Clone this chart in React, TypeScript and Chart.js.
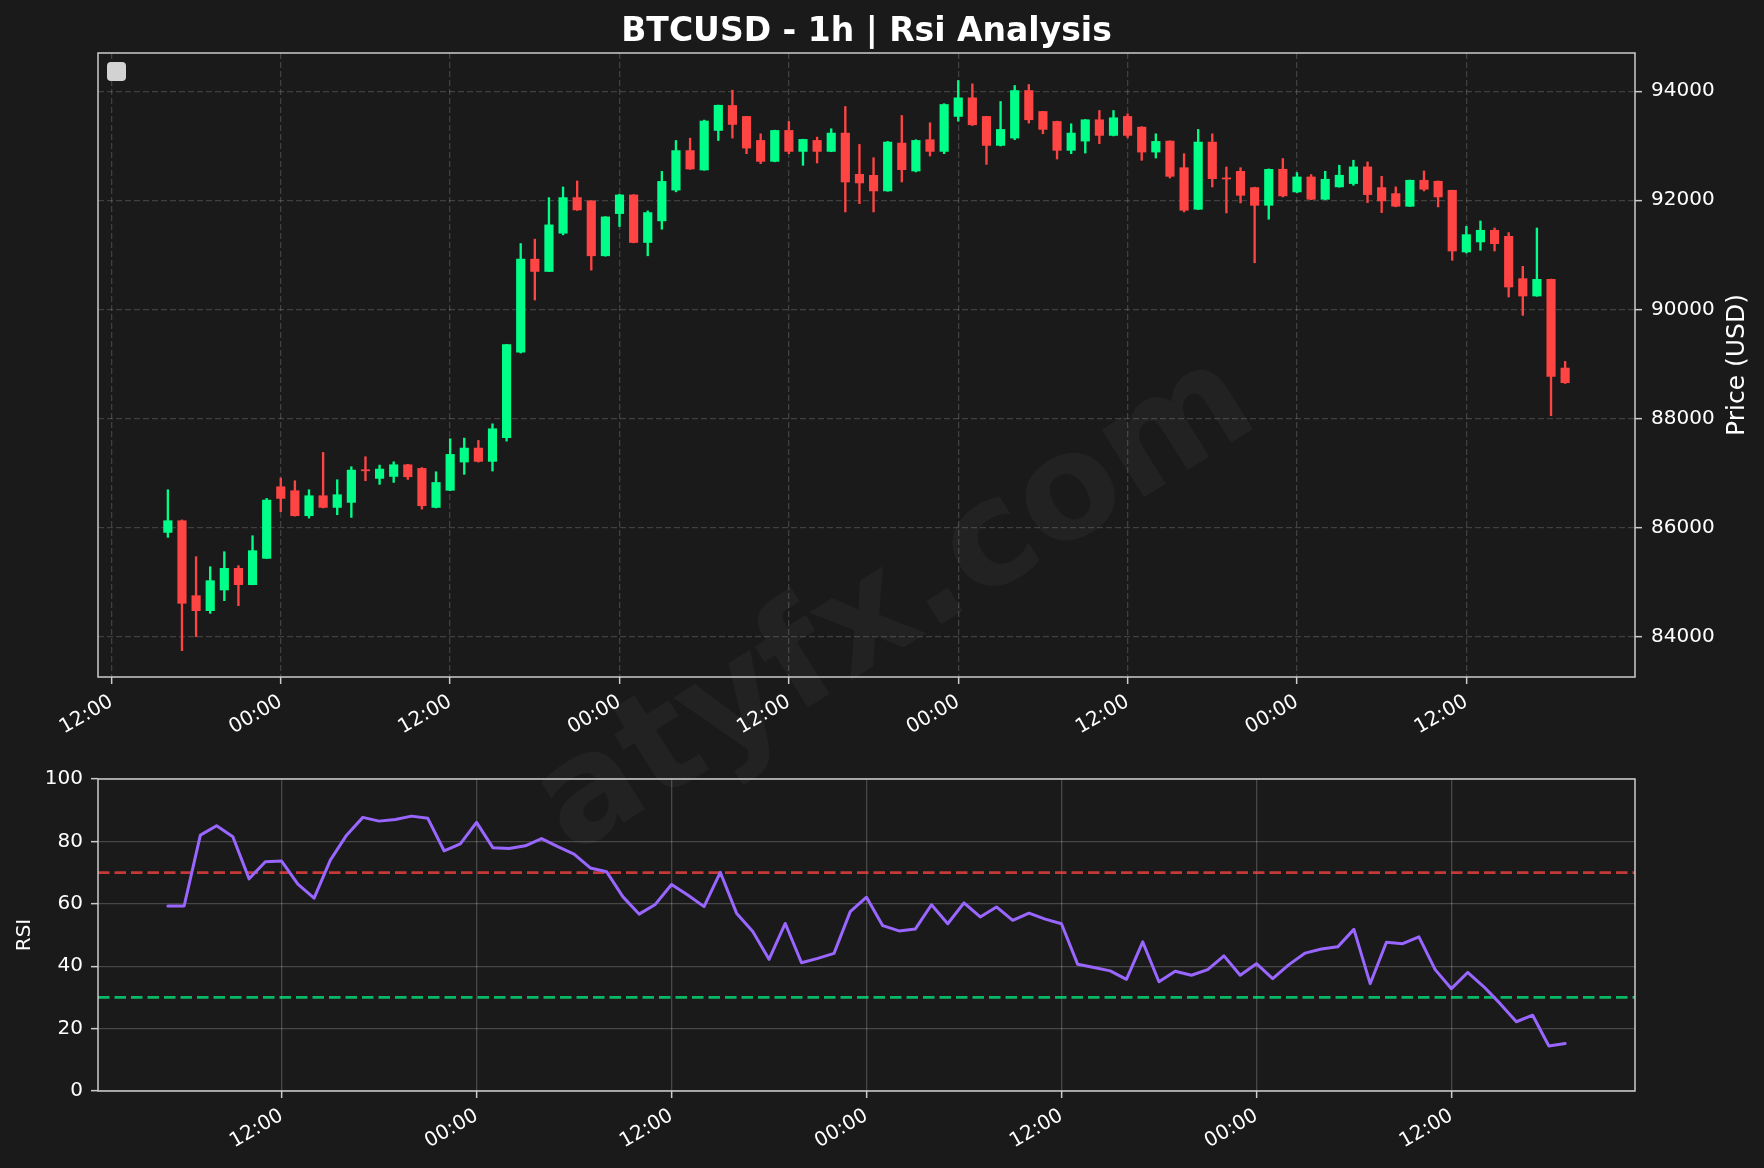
import React, { useEffect, useRef } from 'react';
import { Chart, registerables } from 'chart.js';

Chart.register(...registerables);

// ---------------- Data ----------------
// Hourly candles; first candle sits 16 h after the first midnight on the axis
const FIRST_CANDLE_HOUR = 16;
const OPEN = [
  85911, 86125, 84751, 84476, 84855, 85252, 84953, 85435, 86748, 86675,
  86217, 86583, 86369, 86461, 87060, 86901, 86937, 87151, 87084, 86369,
  86683, 87201, 87457, 87213, 87646, 89213, 90921, 90695, 91396, 92049,
  91988, 90982, 91756, 92098, 91226, 91622, 92186, 92911, 92555, 93280,
  93738, 93537, 93097, 92713, 93280, 92896, 93097, 92896, 93232, 92476,
  92457, 92171, 93049, 92536, 93110, 92896, 93537, 93878, 93537, 93006,
  93140, 94012, 93628, 93445, 92915, 93085, 93476, 93189, 93537, 93341,
  92884, 93085, 92597, 91835, 93067, 92410, 92530, 92232, 91908, 92569,
  92153, 92428, 92018, 92245, 92306, 92612, 92232, 92122, 91890, 92367,
  92349, 92183, 91052, 91236, 91450, 91339, 90563, 90245, 90550, 88924,
];
const HIGH = [
  86693, 86140, 85466, 85282, 85557, 85301, 85850, 86534, 86907, 86858,
  86693, 87377, 86876, 87115, 87298, 87145, 87206, 87160, 87100, 87023,
  87628, 87640, 87597, 87902, 89360, 91207, 91287, 92049, 92244, 92354,
  91995, 91700, 92110, 92105, 91805, 92530, 93096, 93139, 93470, 93745,
  94018, 93540, 93219, 93285, 93445, 93120, 93158, 93311, 93719, 93024,
  92780, 93080, 93555, 93110, 93421, 93770, 94195, 94134, 93540, 93811,
  94104, 94122, 93630, 93450, 93402, 93480, 93646, 93646, 93585, 93350,
  93219, 93090, 92854, 93299, 93219, 92610, 92597, 92240, 92575, 92765,
  92508, 92471, 92532, 92642, 92734, 92703, 92440, 92245, 92370, 92538,
  92355, 92185, 91523, 91621, 91492, 91407, 90789, 91492, 90555, 89046,
];
const LOW = [
  85820, 83743, 84000, 84427, 84659, 84568, 84950, 85430, 86290, 86210,
  86174, 86360, 86235, 86186, 86858, 86791, 86827, 86882, 86339, 86360,
  86675, 86975, 87200, 87036, 87585, 89200, 90171, 90690, 91366, 91815,
  90719, 90975, 91518, 91220, 90982, 91469, 92155, 92565, 92550, 93096,
  93140, 92854, 92671, 92705, 92854, 92640, 92683, 92890, 91786, 91939,
  91786, 92165, 92335, 92520, 92811, 92854, 93451, 93370, 92658, 92995,
  93110, 93415, 93219, 92756, 92854, 92866, 93037, 93180, 93146, 92732,
  92774, 92408, 91786, 91830, 92244, 91768, 91951, 90854, 91652, 92061,
  92140, 92010, 92010, 92240, 92275, 91957, 91774, 91880, 91885, 92171,
  91878, 90899, 91034, 91083, 91070, 90226, 89890, 90240, 88050, 88640,
];
const CLOSE = [
  86125, 84611, 84476, 85026, 85252, 84953, 85576, 86504, 86534, 86217,
  86583, 86369, 86602, 87053, 87040, 87072, 87151, 86931, 86400, 86827,
  87341, 87457, 87213, 87811, 89353, 90921, 90695, 91549, 92049, 91823,
  90982, 91695, 92098, 91226, 91774, 92346, 92911, 92573, 93453, 93742,
  93390, 92957, 92713, 93280, 92896, 93116, 92896, 93232, 92335, 92317,
  92171, 93067, 92561, 93097, 92896, 93756, 93878, 93384, 93006, 93299,
  94012, 93476, 93299, 92915, 93232, 93476, 93189, 93512, 93189, 92884,
  93079, 92439, 91817, 93067, 92396, 92390, 92091, 91908, 92567, 92080,
  92428, 92018, 92385, 92459, 92612, 92104, 91988, 91890, 92367, 92202,
  92061, 91070, 91370, 91450, 91205, 90410, 90245, 90550, 88771, 88655,
];

// RSI panel: its own time axis, first value 5 h after the first midnight
const RSI_FIRST_HOUR = 5;
const RSI = [
  59.3, 59.3, 82, 85, 81.5, 68, 73.5, 73.7, 66.3, 61.8,
  74, 82, 87.7, 86.5, 87, 88.1, 87.4, 77, 79.2, 86.1,
  78, 77.7, 78.6, 80.9, 78.3, 75.9, 71.5, 70.3, 62.3, 56.7,
  59.8, 66.2, 62.8, 59.1, 70.1, 57, 51.1, 42.2, 53.7, 41.1,
  42.5, 44.1, 57.5, 62.1, 53, 51.3, 51.9, 59.7, 53.6, 60.3,
  55.8, 59, 54.7, 57, 55.1, 53.6, 40.6, 39.6, 38.5, 35.8,
  47.8, 35, 38.4, 37.1, 38.9, 43.3, 37.1, 40.8, 36, 40.5,
  44.2, 45.5, 46.2, 51.8, 34.4, 47.7, 47.2, 49.4, 38.9, 32.8,
  38, 33.4, 28, 22.2, 24.3, 14.4, 15.2,
];

const PRICE_TICKS = [84000, 86000, 88000, 90000, 92000, 94000];
const PRICE_MIN = 83260;
const PRICE_MAX = 94700;
const PRICE_TIME_TICKS = [12, 24, 36, 48, 60, 72, 84, 96, 108];
const RSI_TIME_TICKS = [12, 24, 36, 48, 60, 72, 84];
const RSI_TICKS = [0, 20, 40, 60, 80, 100];
const OVERBOUGHT = 70;
const OVERSOLD = 30;

const TITLE = 'BTCUSD - 1h | Rsi Analysis';
const PRICE_LABEL = 'Price (USD)';
const RSI_LABEL = 'RSI';
const WATERMARK = 'atyfx.com';

// ---------------- Styles ----------------
const FONT = "'DejaVu Sans', sans-serif";
const BG = '#1a1a1a';
const GREEN = '#00ff88';
const RED = '#ff4444';
const GRID = 'rgba(255,255,255,0.17)';
const FRAME = '#cccccc';
const RSI_COLOR = '#9966ff';

const W = 1764;
const H = 1168;
const TOP_H = 750;
const RSI_TOP = 750;
const RSI_H = H - RSI_TOP;
const AREA_L = 98;
const AREA_R = 1635;
const TOP_AREA_T = 53;
const TOP_AREA_B = 677;
const RSI_AREA_T = 779;
const RSI_AREA_B = 1091;

function timeLabel(v: number): string {
  const h = ((Math.round(v) % 24) + 24) % 24;
  return String(h).padStart(2, '0') + ':00';
}

function framePlugin(id: string) {
  return {
    id,
    afterDraw(chart: any) {
      const { ctx, chartArea: a } = chart;
      ctx.save();
      ctx.strokeStyle = FRAME;
      ctx.lineWidth = 1.5;
      ctx.strokeRect(a.left, a.top, a.right - a.left, a.bottom - a.top);
      ctx.restore();
    },
  };
}

export default function App() {
  const topRef = useRef<HTMLCanvasElement | null>(null);
  const rsiRef = useRef<HTMLCanvasElement | null>(null);

  useEffect(() => {
    const candleX = OPEN.map((_, i) => FIRST_CANDLE_HOUR + i);
    const span = candleX[candleX.length - 1] - candleX[0];
    const xMin = candleX[0] - span * 0.05;
    const xMax = candleX[candleX.length - 1] + span * 0.05;
    const colors = CLOSE.map((c, i) => (c >= OPEN[i] ? GREEN : RED));
    const bodyData = candleX.map((x, i) => ({ x, y: [OPEN[i], CLOSE[i]] }));
    const wickData = candleX.map((x, i) => ({ x, y: [LOW[i], HIGH[i]] }));

    const topDecor = {
      id: 'topDecor',
      afterDraw(chart: any) {
        const { ctx, chartArea: a } = chart;
        ctx.save();
        ctx.fillStyle = '#ffffff';
        ctx.font = `bold 33px ${FONT}`;
        ctx.textAlign = 'center';
        ctx.textBaseline = 'alphabetic';
        ctx.fillText(TITLE, (a.left + a.right) / 2, 41);
        ctx.font = `25px ${FONT}`;
        ctx.translate(1737, (a.top + a.bottom) / 2);
        ctx.rotate(-Math.PI / 2);
        ctx.textBaseline = 'middle';
        ctx.fillText(PRICE_LABEL, 0, 0);
        ctx.restore();
        ctx.save();
        ctx.fillStyle = '#d2d2d2';
        ctx.beginPath();
        (ctx as any).roundRect(a.left + 9, a.top + 9, 19, 19, 4);
        ctx.fill();
        ctx.restore();
      },
    };

    const topChart = new Chart(topRef.current as HTMLCanvasElement, {
      type: 'bar',
      data: {
        datasets: [
          {
            label: 'body',
            data: bodyData as any,
            backgroundColor: colors,
            barThickness: 8.5,
            grouped: false,
            order: 0,
            borderWidth: 0,
          } as any,
          {
            label: 'wick',
            data: wickData as any,
            backgroundColor: colors,
            barThickness: 1.7,
            grouped: false,
            order: 1,
            borderWidth: 0,
          } as any,
        ],
      },
      options: {
        responsive: false,
        maintainAspectRatio: false,
        animation: false,
        devicePixelRatio: 1,
        layout: { padding: { left: AREA_L, top: TOP_AREA_T, right: 0, bottom: 0 } },
        plugins: { legend: { display: false }, tooltip: { enabled: false }, title: { display: false } },
        scales: {
          x: {
            type: 'linear',
            min: xMin,
            max: xMax,
            offset: false,
            afterBuildTicks: (s: any) => {
              s.ticks = PRICE_TIME_TICKS.map((v) => ({ value: v }));
            },
            afterFit: (s: any) => {
              s.height = TOP_H - TOP_AREA_B;
            },
            ticks: {
              autoSkip: false,
              minRotation: 30,
              maxRotation: 30,
              padding: 6,
              color: '#ffffff',
              font: { family: FONT, size: 20 },
              callback: (v: any) => timeLabel(Number(v)),
            },
            grid: {
              color: GRID,
              lineWidth: 1.3,
              offset: false,
              tickLength: 7,
              tickColor: FRAME,
              tickWidth: 1.5,
            },
            border: { display: false, dash: [6, 3] },
          },
          y: {
            type: 'linear',
            position: 'right',
            min: PRICE_MIN,
            max: PRICE_MAX,
            afterBuildTicks: (s: any) => {
              s.ticks = PRICE_TICKS.map((v) => ({ value: v }));
            },
            afterFit: (s: any) => {
              s.width = W - AREA_R;
            },
            ticks: {
              padding: 9,
              color: '#ffffff',
              font: { family: FONT, size: 20 },
              callback: (v: any) => String(v),
            },
            grid: {
              color: GRID,
              lineWidth: 1.3,
              tickLength: 7,
              tickColor: FRAME,
              tickWidth: 1.5,
            },
            border: { display: false, dash: [6, 3] },
          },
        },
      } as any,
      plugins: [framePlugin('topFrame'), topDecor],
    });

    const rsiX = RSI.map((_, i) => RSI_FIRST_HOUR + i);
    const rSpan = rsiX[rsiX.length - 1] - rsiX[0];
    const rMin = rsiX[0] - rSpan * 0.05;
    const rMax = rsiX[rsiX.length - 1] + rSpan * 0.05;
    const rsiData = rsiX.map((x, i) => ({ x, y: RSI[i] }));

    const thresholds = {
      id: 'thresholds',
      beforeDatasetsDraw(chart: any) {
        const { ctx, chartArea: a, scales } = chart;
        const lines: [number, string][] = [
          [OVERBOUGHT, 'rgba(255,68,68,0.75)'],
          [OVERSOLD, 'rgba(0,255,136,0.7)'],
        ];
        ctx.save();
        ctx.lineWidth = 2.6;
        ctx.setLineDash([11.5, 5]);
        for (const [v, c] of lines) {
          const y = scales.y.getPixelForValue(v);
          ctx.strokeStyle = c;
          ctx.beginPath();
          ctx.moveTo(a.left, y);
          ctx.lineTo(a.right, y);
          ctx.stroke();
        }
        ctx.restore();
      },
    };
    const rsiDecor = {
      id: 'rsiDecor',
      afterDraw(chart: any) {
        const { ctx, chartArea: a } = chart;
        ctx.save();
        ctx.fillStyle = '#ffffff';
        ctx.font = `20px ${FONT}`;
        ctx.textAlign = 'center';
        ctx.textBaseline = 'middle';
        ctx.translate(24.5, (a.top + a.bottom) / 2);
        ctx.rotate(-Math.PI / 2);
        ctx.fillText(RSI_LABEL, 0, 0);
        ctx.restore();
      },
    };

    const rsiChart = new Chart(rsiRef.current as HTMLCanvasElement, {
      type: 'line',
      data: {
        datasets: [
          {
            label: 'RSI',
            data: rsiData as any,
            borderColor: RSI_COLOR,
            borderWidth: 3,
            pointRadius: 0,
            tension: 0,
            borderJoinStyle: 'round',
            borderCapStyle: 'round',
            fill: false,
          } as any,
        ],
      },
      options: {
        responsive: false,
        maintainAspectRatio: false,
        animation: false,
        devicePixelRatio: 1,
        layout: {
          padding: { left: 0, top: RSI_AREA_T - RSI_TOP, right: W - AREA_R, bottom: 0 },
        },
        plugins: { legend: { display: false }, tooltip: { enabled: false }, title: { display: false } },
        scales: {
          x: {
            type: 'linear',
            min: rMin,
            max: rMax,
            afterBuildTicks: (s: any) => {
              s.ticks = RSI_TIME_TICKS.map((v) => ({ value: v }));
            },
            afterFit: (s: any) => {
              s.height = RSI_H - (RSI_AREA_B - RSI_TOP);
            },
            ticks: {
              autoSkip: false,
              minRotation: 30,
              maxRotation: 30,
              padding: 6,
              color: '#ffffff',
              font: { family: FONT, size: 20 },
              callback: (v: any) => timeLabel(Number(v)),
            },
            grid: {
              color: 'rgba(255,255,255,0.2)',
              lineWidth: 1.3,
              tickLength: 7,
              tickColor: FRAME,
              tickWidth: 1.5,
            },
            border: { display: false },
          },
          y: {
            type: 'linear',
            position: 'left',
            min: 0,
            max: 100,
            afterBuildTicks: (s: any) => {
              s.ticks = RSI_TICKS.map((v) => ({ value: v }));
            },
            afterFit: (s: any) => {
              s.width = AREA_L;
            },
            ticks: {
              padding: 8,
              color: '#ffffff',
              font: { family: FONT, size: 20 },
              callback: (v: any) => String(v),
            },
            grid: {
              color: 'rgba(255,255,255,0.2)',
              lineWidth: 1.3,
              tickLength: 7,
              tickColor: FRAME,
              tickWidth: 1.5,
            },
            border: { display: false },
          },
        },
      } as any,
      plugins: [thresholds, framePlugin('rsiFrame'), rsiDecor],
    });

    return () => {
      topChart.destroy();
      rsiChart.destroy();
    };
  }, []);

  return (
    <div
      style={{
        position: 'absolute',
        left: 0,
        top: 0,
        width: W,
        height: H,
        background: BG,
        overflow: 'hidden',
      }}
    >
      <div
        style={{
          position: 'absolute',
          left: 890,
          top: 596,
          transform: 'translate(-50%, -50%) rotate(-32deg)',
          font: `bold 146px ${FONT}`,
          color: 'rgba(255,255,255,0.035)',
          whiteSpace: 'nowrap',
          lineHeight: 1,
          pointerEvents: 'none',
        }}
      >
        {WATERMARK}
      </div>
      <canvas
        ref={topRef}
        width={W}
        height={TOP_H}
        style={{ position: 'absolute', left: 0, top: 0, width: W, height: TOP_H }}
      />
      <canvas
        ref={rsiRef}
        width={W}
        height={RSI_H}
        style={{ position: 'absolute', left: 0, top: RSI_TOP, width: W, height: RSI_H }}
      />
    </div>
  );
}
